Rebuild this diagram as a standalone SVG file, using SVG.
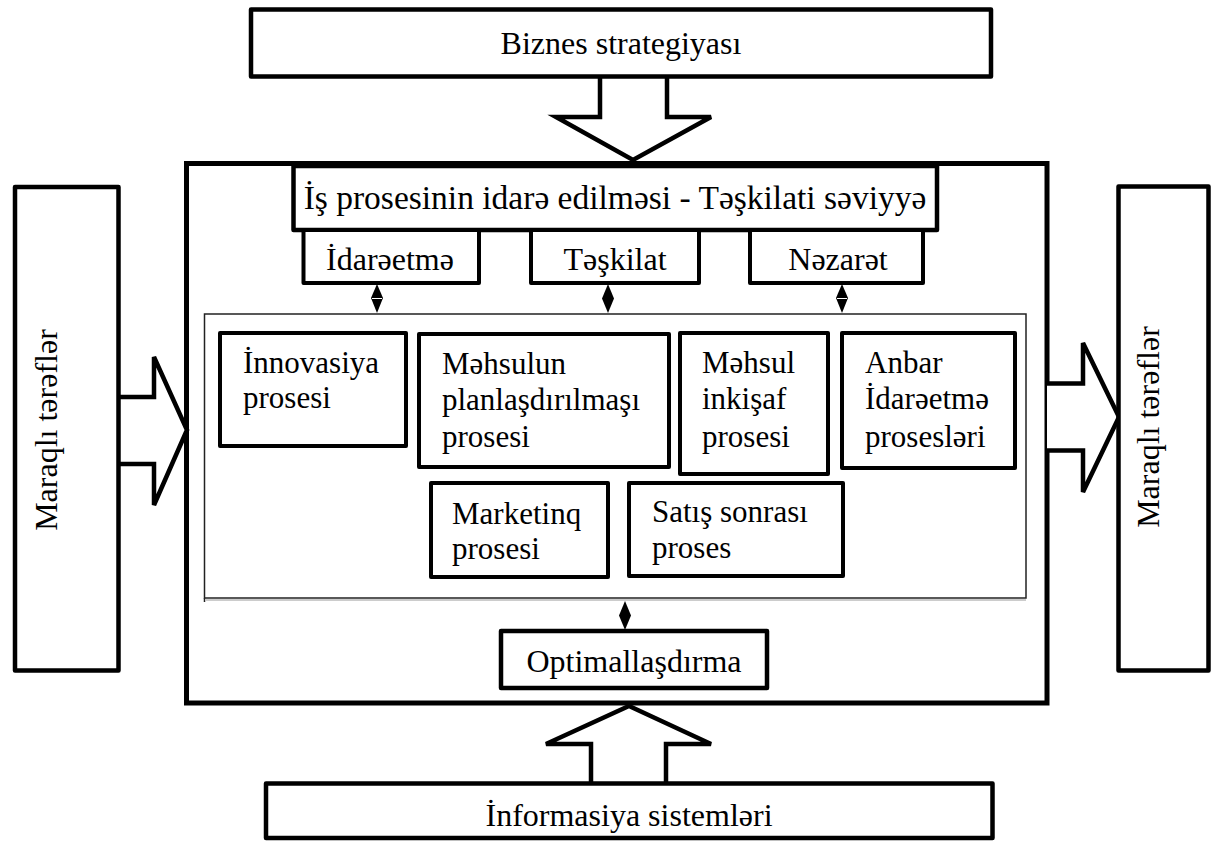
<svg xmlns="http://www.w3.org/2000/svg" width="1212" height="842" viewBox="0 0 1212 842">
<style>
.box{fill:#fff;stroke:#000;stroke-width:4.5;stroke-linejoin:round}
.pbox{fill:#fff;stroke:#000;stroke-width:4;stroke-linejoin:round}
.thin{fill:#fff;stroke:#222;stroke-width:1.5}
.blk{fill:#fff;stroke:#000;stroke-width:4.5;stroke-linejoin:miter}
.t{font-family:"Liberation Serif","Times New Roman",serif;font-size:32px;fill:#000}
.c{text-anchor:middle}
.p{font-size:31px}
.link{stroke:#000;stroke-width:1.5;fill:none}
.dia{fill:#000;stroke:none}
</style>
<rect width="1212" height="842" fill="#fff"/>

<g id="outer">
<rect x="186.5" y="163.5" width="860.5" height="539.5" fill="#fff" stroke="#000" stroke-width="5"/>
</g>

<g id="block-arrows">
<path class="blk" d="M600,77 L600,117 L556,117 L633,160 L711,117 L667,117 L667,77"/>
<path class="blk" d="M591,783 L591,744 L546,744 L629,706 L711,744 L666,744 L666,783"/>
<path class="blk" d="M118.5,397 L154,397 L154,357 L187,430 L154,505 L154,464 L118.5,464"/>
<path class="blk" d="M1047,383.5 L1083,383.5 L1083,343 L1119,417 L1083,492 L1083,450.5 L1047,450.5"/>
</g>

<g id="biznes">
<rect class="box" x="251" y="9.5" width="740" height="67"/>
<text class="t c" x="621" y="54">Biznes strategiyası</text>
</g>

<g id="informasiya">
<rect class="box" x="266" y="783.5" width="726.5" height="54.5"/>
<text class="t c" x="629" y="826">İnformasiya sistemləri</text>
</g>

<g id="maraqli-left">
<rect class="box" x="15" y="187" width="103.5" height="483.5"/>
<text class="t c" transform="translate(57,430) rotate(-90)">Maraqlı tərəflər</text>
</g>

<g id="maraqli-right">
<rect class="box" x="1118.5" y="186.5" width="90" height="484"/>
<text class="t c" transform="translate(1159,427) rotate(-90)">Maraqlı tərəflər</text>
</g>

<g id="is-prosesi">
<rect class="box" x="293.5" y="166" width="643.5" height="64"/>
<text class="t c" x="615" y="209" style="font-size:33.5px">İş prosesinin idarə edilməsi - Təşkilati səviyyə</text>
</g>

<g id="idareetme">
<rect class="pbox" x="303.5" y="230" width="175.5" height="53"/>
<text class="t c" x="390" y="270">İdarəetmə</text>
</g>
<g id="teskilat">
<rect class="pbox" x="531" y="230" width="168" height="53"/>
<text class="t c" x="615" y="270">Təşkilat</text>
</g>
<g id="nezaret">
<rect class="pbox" x="750" y="230" width="173" height="53"/>
<text class="t c" x="838" y="270">Nəzarət</text>
</g>

<g id="prosesler">
<rect class="thin" x="204.5" y="314" width="821.5" height="284"/>
<line x1="206" y1="600" x2="1026" y2="600" stroke="#999" stroke-width="1"/>
<line x1="204.5" y1="598" x2="204.5" y2="602" stroke="#222" stroke-width="1.5"/>
</g>

<g id="innovasiya">
<rect class="pbox" x="220" y="333" width="186" height="113"/>
<text class="t p" x="243" y="373">İnnovasiya</text>
<text class="t p" x="243" y="408">prosesi</text>
</g>
<g id="mehsulun-planlasdirilmasi">
<rect class="pbox" x="419" y="334" width="250" height="133"/>
<text class="t p" x="442" y="374">Məhsulun</text>
<text class="t p" x="442" y="410">planlaşdırılmaşı</text>
<text class="t p" x="442" y="447">prosesi</text>
</g>
<g id="mehsul-inkisaf">
<rect class="pbox" x="680" y="333" width="148" height="141"/>
<text class="t p" x="702" y="373">Məhsul</text>
<text class="t p" x="702" y="409">inkişaf</text>
<text class="t p" x="702" y="447">prosesi</text>
</g>
<g id="anbar">
<rect class="pbox" x="842" y="333" width="173" height="135"/>
<text class="t p" x="865" y="373">Anbar</text>
<text class="t p" x="865" y="409">İdarəetmə</text>
<text class="t p" x="865" y="447">prosesləri</text>
</g>
<g id="marketinq">
<rect class="pbox" x="431" y="483" width="177" height="94"/>
<text class="t p" x="452" y="524">Marketinq</text>
<text class="t p" x="452" y="559">prosesi</text>
</g>
<g id="satis-sonrasi">
<rect class="pbox" x="629" y="483" width="214" height="93"/>
<text class="t p" x="652" y="522">Satış sonrası</text>
<text class="t p" x="652" y="558">proses</text>
</g>

<g id="optimallasdirma">
<rect class="box" x="501" y="631" width="266" height="57"/>
<text class="t c" x="634" y="672">Optimallaşdırma</text>
</g>

<g id="connectors">
<path class="dia" d="M377,284 L383,298 L377,313 L371,298 Z"/>
<line x1="372" y1="298.5" x2="382" y2="298.5" stroke="#fff" stroke-width="1"/>
<path class="dia" d="M608,284 L614,298.5 L608,313 L602,298.5 Z"/>
<path class="dia" d="M842,284 L848,298 L842,313 L836,298 Z"/>
<line x1="837" y1="298.5" x2="847" y2="298.5" stroke="#fff" stroke-width="1"/>
<path class="dia" d="M625,601 L631,615.5 L625,630 L619,615.5 Z"/>
</g>
</svg>
